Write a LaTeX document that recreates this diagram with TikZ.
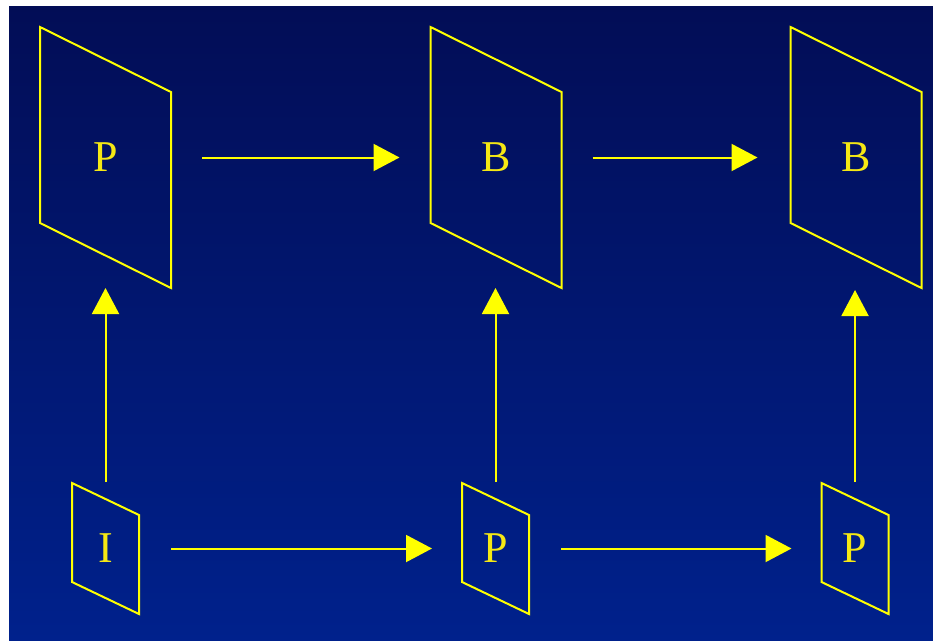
\documentclass[tikz,border=0pt]{standalone}
\usepackage{fontspec}
\setmainfont{Liberation Serif}
\usetikzlibrary{arrows.meta,calc}
\definecolor{bgtop}{RGB}{2,13,86}
\definecolor{bgbot}{RGB}{0,33,140}
\definecolor{frameline}{RGB}{255,255,0}
\definecolor{labeltext}{RGB}{245,232,20}
\tikzset{
  framebox/.style={inner sep=0pt, outer sep=0pt, draw=none,
    text=labeltext, font=\fontsize{44}{44}\selectfont},
  bigframe/.style={framebox, minimum width=131pt, minimum height=261pt},
  smallframe/.style={framebox, minimum width=67pt, minimum height=131pt},
  edge/.style={draw=frameline, line width=2pt, line join=miter},
  flow/.style={draw=frameline, line width=2pt,
    -{Triangle[length=26pt,width=27pt]}},
}
% slanted outline of a frame node: #1 node name, #2 vertical slant
\newcommand{\slantframe}[2]{%
  \draw[edge] (#1.north west) -- ($(#1.north east)+(0,#2)$)
    -- (#1.south east) -- ($(#1.south west)+(0,-#2)$) -- cycle;}
\begin{document}
\begin{tikzpicture}[x=1pt,y=-1pt]
  % page and shaded backdrop
  \fill[white] (0,0) rectangle (933,640);
  \shade[top color=bgtop, bottom color=bgbot] (9,6) rectangle (933,640);
  \useasboundingbox (0,0) rectangle (933,640);

  % upper row
  \node[bigframe] (t1) at (105.5,157.5) {P};
  \node[bigframe] (t2) at (496,157.5) {B};
  \node[bigframe] (t3) at (856,157.5) {B};
  % lower row
  \node[smallframe] (b1) at (105.5,548.5) {I};
  \node[smallframe] (b2) at (495.5,548.5) {P};
  \node[smallframe] (b3) at (855,548.5) {P};

  \slantframe{t1}{65}
  \slantframe{t2}{65}
  \slantframe{t3}{65}
  \slantframe{b1}{32}
  \slantframe{b2}{32}
  \slantframe{b3}{32}

  % horizontal flow
  \draw[flow, shorten <=31pt, shorten >=31pt] (t1.east) -- (t2.west);
  \draw[flow, shorten <=31pt, shorten >=33pt] (t2.east) -- (t3.west);
  \draw[flow, shorten <=32pt, shorten >=30pt] (b1.east) -- (b2.west);
  \draw[flow, shorten <=32pt, shorten >=30pt] (b2.east) -- (b3.west);

  % vertical flow, kept plumb above each lower frame
  \draw[flow, shorten <=1pt] (b1.north) -- (b1.north |- t1.south);
  \draw[flow, shorten <=1pt] (b2.north) -- (b2.north |- t2.south);
  \draw[flow, shorten <=1pt, shorten >=2pt] (b3.north) -- (b3.north |- t3.south);
\end{tikzpicture}
\end{document}
